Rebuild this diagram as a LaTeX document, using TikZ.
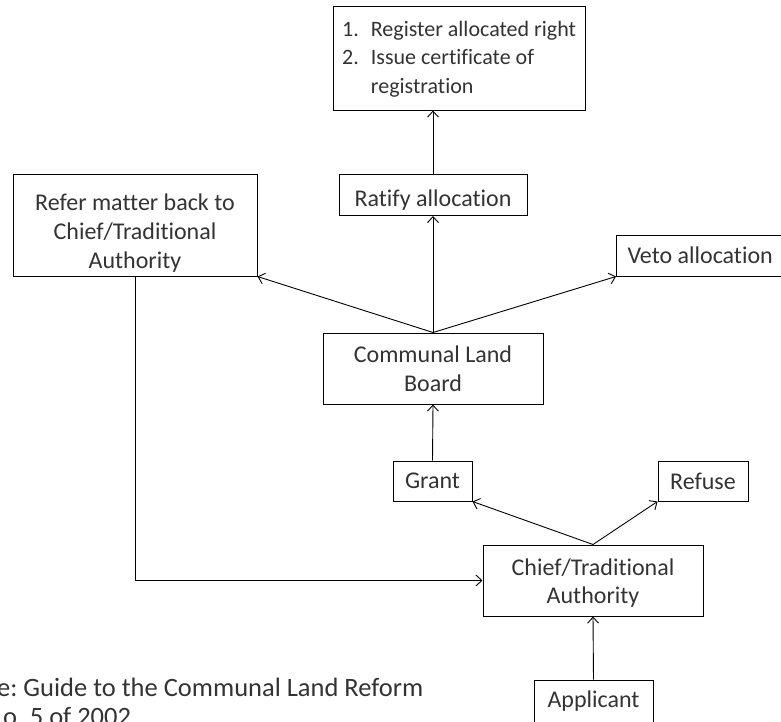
\documentclass[tikz,border=0pt]{standalone}
\usepackage{fontspec}
\setmainfont[Ligatures={NoCommon}]{Carlito}
\usetikzlibrary{arrows.meta}
\frenchspacing
\definecolor{inkgrey}{HTML}{333333}
\tikzset{
  box/.style={draw=black, line width=1pt, text=inkgrey, align=center, inner sep=0pt,
    font=\fontsize{24}{28.8}\selectfont},
  link/.style={-{Straight Barb[length=6pt,width=11pt]}, line width=0.9pt, black}
}
\begin{document}
\begin{tikzpicture}[x=1pt,y=-1pt]
	\clip (0,0) rectangle (781,721);
	% boxes
	\node[box, minimum width=252pt, minimum height=104pt] (register) at (459,58) {};
	\node[text=inkgrey, anchor=north west, inner sep=0pt, font=\fontsize{22}{28.6}\selectfont] at (342,16)
		{\begin{tabular}{@{}l@{\hspace{12pt}}l@{}}1. & Register allocated right\\ 2. & Issue certificate of\\ & registration\end{tabular}};
	\node[box, minimum width=188pt, minimum height=41pt] (ratify) at (433,195) {\rule{0pt}{27pt}Ratify allocation};
	\node[box, minimum width=244pt, minimum height=102pt] (refer) at (135,225) {\rule{0pt}{33pt}Refer matter back to\\Chief/Traditional\\Authority};
	\node[box, anchor=west, inner xsep=11pt, minimum height=41pt] (veto) at (616,255.5) {Veto allocation};
	\node[box, minimum width=220pt, minimum height=71pt] (board) at (433,368.5) {Communal Land\\Board};
	\node[box, minimum width=79pt, minimum height=40pt] (grant) at (432.5,481) {Grant};
	\node[box, minimum width=90pt, minimum height=40pt] (refuse) at (703,481) {Refuse};
	\node[box, minimum width=220pt, minimum height=71pt] (chief) at (593,580.5) {\rule{0pt}{22pt}Chief/Traditional\\Authority};
	\node[box, minimum width=119pt, minimum height=42pt] (applicant) at (593.5,701) {Applicant};
	% source
	\node[text=inkgrey, anchor=north west, align=left, inner sep=0pt, font=\fontsize{26.5}{29}\selectfont] (source) at (-3,678)
		{e: Guide to the Communal Land Reform\\\hspace*{6pt}o. 5 of 2002};
	% connectors
	\draw[link] (ratify.north) -- (ratify.north |- register.south);
	\draw[link] (board.north) -- (ratify.south);
	\draw[link] (board.north) -- (refer.south east);
	\draw[link] (board.north) -- (veto.south west);
	\draw[link] (grant.north) -- (board.south);
	\draw[link] (chief.north) -- (grant.south east);
	\draw[link] (chief.north) -- (refuse.south west);
	\draw[link] (applicant.north) -- (chief.south);
	\draw[link] (refer.south) |- (chief.west);
\end{tikzpicture}
\end{document}
